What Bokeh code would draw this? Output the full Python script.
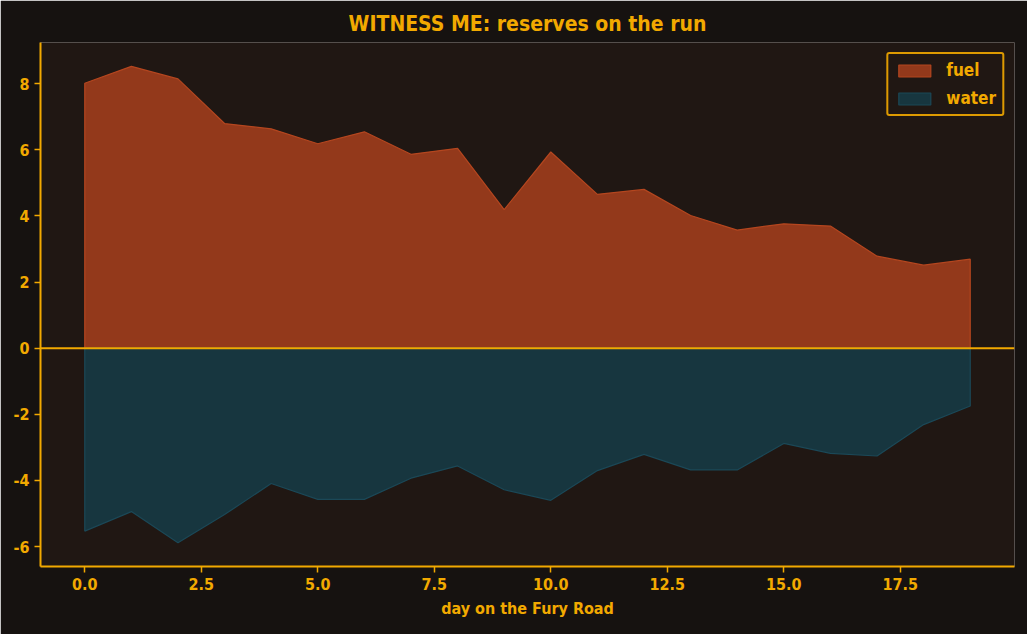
from bokeh.plotting import figure
from bokeh.models import Span, FixedTicker, NumeralTickFormatter, Legend, LegendItem
from bokeh.embed import file_html
from bokeh.resources import INLINE

days = list(range(20))
fuel = [8.01, 8.52, 8.14, 6.79, 6.63, 6.18, 6.54, 5.86, 6.04, 4.19,
        5.93, 4.65, 4.80, 4.01, 3.57, 3.76, 3.69, 2.78, 2.51, 2.69]
water = [-5.53, -4.94, -5.88, -5.03, -4.09, -4.57, -4.57, -3.93, -3.56, -4.28,
         -4.60, -3.70, -3.21, -3.68, -3.68, -2.88, -3.18, -3.26, -2.31, -1.75]
x_ticks = [0, 2.5, 5, 7.5, 10, 12.5, 15, 17.5]
y_ticks = [-6, -4, -2, 0, 2, 4, 6, 8]

GOLD = "#f2a900"
FONT = "DejaVu Sans Condensed"
BG = "#161210"
PLOT_BG = "#201713"

p = figure(width=1027, height=634, output_backend="svg", toolbar_location=None,
           title="WITNESS ME: reserves on the run",
           min_border_left=40, min_border_right=13, min_border_top=42, min_border_bottom=68)
p.background_fill_color = PLOT_BG
p.border_fill_color = BG
p.outline_line_color = None

p.title.align = "center"
p.title.text_color = GOLD
p.title.text_font = FONT
p.title.text_font_size = "21px"
p.title.text_font_style = "bold"
p.title.standoff = 13

def poly(xs, ys):
    return [xs[0]] + list(xs) + [xs[-1]], [0] + list(ys) + [0]

fx, fy = poly(days, fuel)
wx, wy = poly(days, water)
r_fuel = p.patch(fx, fy, fill_color="#93391b", fill_alpha=1.0, line_color="#b4461f", line_width=1.2)
r_water = p.patch(wx, wy, fill_color="#17363f", fill_alpha=1.0, line_color="#1b4857", line_width=1.2)

p.add_layout(Span(location=0, dimension="width", line_color=GOLD, line_width=2))

p.xgrid.grid_line_color = None
p.ygrid.grid_line_color = None

for ax in (p.xaxis[0], p.yaxis[0]):
    ax.axis_line_color = GOLD
    ax.axis_line_width = 2
    ax.major_tick_line_color = GOLD
    ax.major_tick_line_width = 1.5
    ax.major_tick_out = 6
    ax.major_tick_in = 0
    ax.minor_tick_line_color = None
    ax.major_label_text_color = GOLD
    ax.major_label_text_font = FONT
    ax.major_label_text_font_size = "16px"
    ax.major_label_text_font_style = "bold"
    ax.axis_label_text_color = GOLD
    ax.axis_label_text_font = FONT
    ax.axis_label_text_font_size = "16px"
    ax.axis_label_text_font_style = "bold"

p.xaxis[0].ticker = FixedTicker(ticks=x_ticks)
p.xaxis[0].formatter = NumeralTickFormatter(format="0.0")
p.xaxis[0].axis_label = "day on the Fury Road"
p.xaxis[0].axis_label_standoff = 6
p.yaxis[0].ticker = FixedTicker(ticks=y_ticks)
p.yaxis[0].formatter = NumeralTickFormatter(format="0")

legend = Legend(items=[LegendItem(label="fuel", renderers=[r_fuel]),
                       LegendItem(label="water", renderers=[r_water])],
                location="top_right")
legend.background_fill_color = PLOT_BG
legend.background_fill_alpha = 1.0
legend.border_line_color = GOLD
legend.border_line_alpha = 0.9
legend.border_line_width = 2
legend.border_radius = 3
legend.label_text_color = GOLD
legend.label_text_font = FONT
legend.label_text_font_size = "17px"
legend.label_text_font_style = "bold"
legend.glyph_width = 40
legend.glyph_height = 15
legend.spacing = 8
legend.padding = 6
legend.margin = 10
legend.label_standoff = 12
p.add_layout(legend)

open("out.html", "w").write(file_html(p, INLINE))
